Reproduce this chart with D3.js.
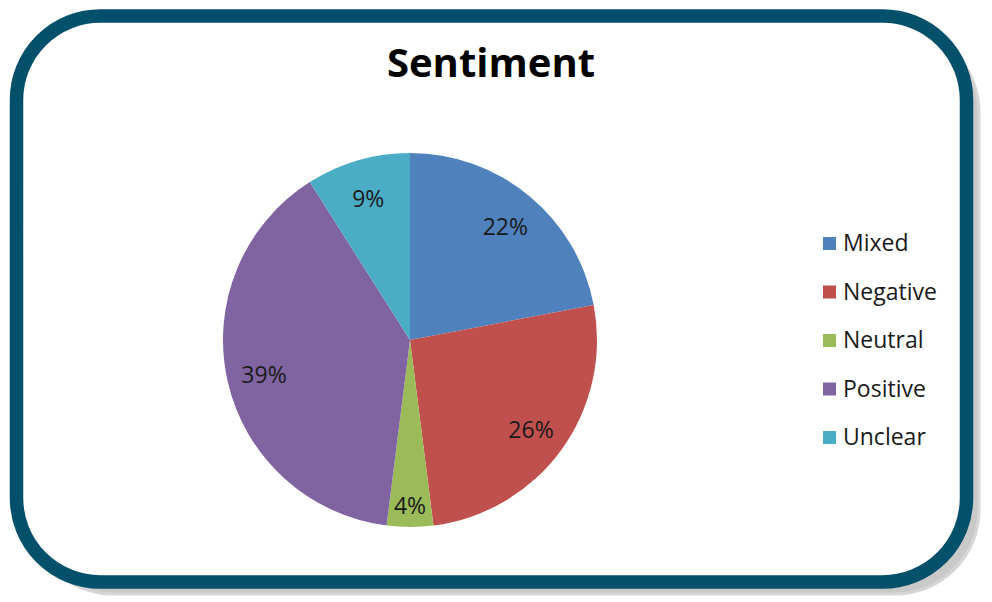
<!DOCTYPE html>
<html>
<head>
<meta charset="utf-8">
<script src="https://cdn.jsdelivr.net/npm/d3@7/dist/d3.min.js"></script>
<style>
html,body{margin:0;padding:0;background:#fff;}
svg{display:block;}
text{font-family:"Open Sans","DejaVu Sans",sans-serif;}
</style>
</head>
<body>
<svg id="chart" width="992" height="602"></svg>
<script>
const categories = ["Mixed", "Negative", "Neutral", "Positive", "Unclear"];
const values = [22, 26, 4, 39, 9];
const labels = ["22%", "26%", "4%", "39%", "9%"];
const colors = ["#4f81bd", "#c0504d", "#9bbb59", "#8064a2", "#4bacc6"];
const title = "Sentiment";

const svg = d3.select("#chart");

// frame shadow
svg.append("rect")
  .attr("x", 29).attr("y", 28).attr("width", 950).attr("height", 566)
  .attr("rx", 84).attr("ry", 84)
  .attr("fill", "#c9c9c9").attr("stroke", "#d6d6d6").attr("stroke-width", 3);
// frame
svg.append("rect")
  .attr("x", 16.5).attr("y", 16).attr("width", 950).attr("height", 566)
  .attr("rx", 84).attr("ry", 84)
  .attr("fill", "#ffffff").attr("stroke", "#03506b").attr("stroke-width", 13.5);

// title
svg.append("text")
  .attr("x", 491).attr("y", 77)
  .attr("text-anchor", "middle")
  .attr("font-size", 40).attr("font-weight", "bold")
  .attr("fill", "#000")
  .text(title);

const cx = 410, cy = 340, R = 187;
const data = categories.map((c, i) => ({cat: c, value: values[i], label: labels[i], color: colors[i]}));
const pie = d3.pie().value(d => d.value).sort(null);
const arcs = pie(data);
const arc = d3.arc().innerRadius(0).outerRadius(R);
const total = d3.sum(values);

const g = svg.append("g").attr("transform", `translate(${cx},${cy})`);
g.selectAll("path").data(arcs).enter().append("path")
  .attr("d", arc)
  .attr("fill", d => d.data.color);

g.selectAll("text.lbl").data(arcs).enter().append("text")
  .attr("class", "lbl")
  .attr("transform", d => {
    const lr = (d.data.value / total) < 0.05 ? R * 0.877 : R * 0.8;
    const c = d3.arc().innerRadius(lr).outerRadius(lr).centroid(d);
    return `translate(${c[0]},${c[1]})`;
  })
  .attr("text-anchor", "middle")
  .attr("dy", "0.45em")
  .attr("font-size", 23)
  .attr("fill", "#1a1a1a")
  .text(d => d.data.label);

// legend
const ly = d3.scalePoint().domain(categories).range([243, 437]);
const lg = svg.append("g");
const items = lg.selectAll("g").data(data).enter().append("g")
  .attr("transform", d => `translate(823,${ly(d.cat)})`);
items.append("rect")
  .attr("x", 0).attr("y", -6).attr("width", 13).attr("height", 13)
  .attr("fill", d => d.color);
items.append("text")
  .attr("x", 20).attr("dy", "0.36em")
  .attr("font-size", 23)
  .attr("fill", "#1a1a1a")
  .text(d => d.cat);
</script>
</body>
</html>
